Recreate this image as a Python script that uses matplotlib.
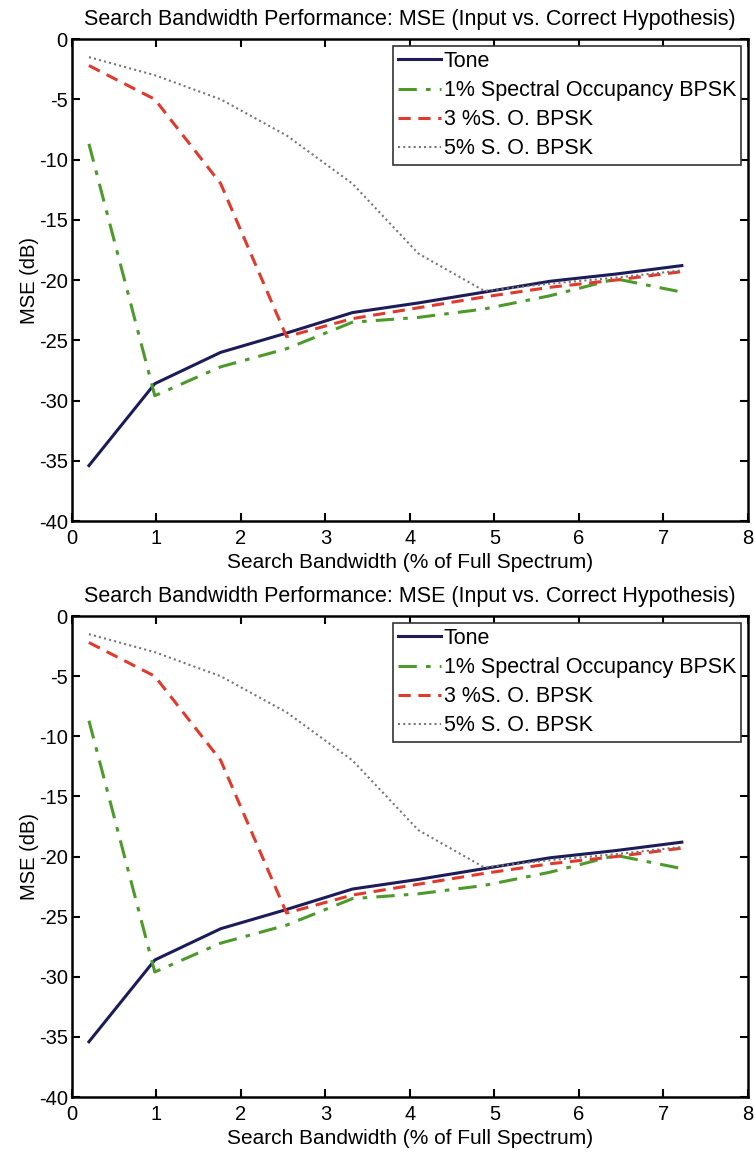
import matplotlib
matplotlib.use('Agg')
from matplotlib import pyplot as plt

plt.rcParams['font.family'] = ['Liberation Sans', 'DejaVu Sans']
plt.rcParams['axes.unicode_minus'] = False

# search bandwidth (% of full spectrum)
bw = [0.2, 0.98, 1.76, 2.54, 3.32, 4.1, 4.88, 5.66, 6.44, 7.22]

# MSE (dB)
tone = [-35.4, -28.6, -26.0, -24.4, -22.7, -21.9, -21.0, -20.1, -19.5, -18.8]
bpsk1 = [-8.7, -29.6, -27.2, -25.7, -23.5, -23.1, -22.4, -21.3, -19.9, -21.0]
bpsk3 = [-2.2, -5.0, -12.0, -24.7, -23.2, -22.3, -21.4, -20.6, -20.0, -19.3]
bpsk5 = [-1.5, -3.0, -5.0, -8.0, -12.0, -17.8, -20.9, -20.3, -19.8, -19.2]

labels = ['Tone', '1% Spectral Occupancy BPSK', '3 %S. O. BPSK', '5% S. O. BPSK']
COLORS = ['#1c1c5a', '#4c9a2a', '#e03a2c', '#777777']

fig = plt.figure(figsize=(7.55, 11.52), dpi=100)
boxes = [[0.0954, 0.5477, 0.895, 0.4184], [0.0954, 0.0477, 0.895, 0.4175]]

for b in boxes:
	ax = fig.add_axes(b)
	ax.plot(bw, tone, color=COLORS[0], linewidth=2.2, label=labels[0])
	ax.plot(bw, bpsk1, color=COLORS[1], linewidth=2.2, linestyle=(0, (6, 3, 1.5, 3)), label=labels[1])
	ax.plot(bw, bpsk3, color=COLORS[2], linewidth=2.2, linestyle=(0, (4, 2.5)), label=labels[2])
	ax.plot(bw, bpsk5, color=COLORS[3], linewidth=1.5, linestyle=(0, (1, 1.5)), label=labels[3])
	ax.set_xlim(0, 8)
	ax.set_ylim(-40, 0)
	ax.set_xticks(range(0, 9))
	ax.set_yticks(range(-40, 1, 5))
	ax.tick_params(direction='in', top=True, right=True, labelsize=14.5, length=6, width=1.5)
	ax.tick_params(axis='x', pad=6)
	ax.tick_params(axis='y', pad=3)
	for s in ax.spines.values():
		s.set_linewidth(1.8)
	ax.set_title('Search Bandwidth Performance: MSE (Input vs. Correct Hypothesis)', fontsize=15.5, pad=10)
	ax.set_xlabel('Search Bandwidth (% of Full Spectrum)', fontsize=15, labelpad=3)
	ax.set_ylabel('MSE (dB)', fontsize=14.5, labelpad=0)
	leg = ax.legend(loc='upper right', fontsize=15.5, fancybox=False, edgecolor='#333333',
		framealpha=1, borderpad=0.25, labelspacing=0.38, handlelength=2.0, handletextpad=0.1,
		borderaxespad=0.3)
	leg.get_frame().set_linewidth(1.2)

plt.savefig('out.png', dpi=100)
plt.close()
